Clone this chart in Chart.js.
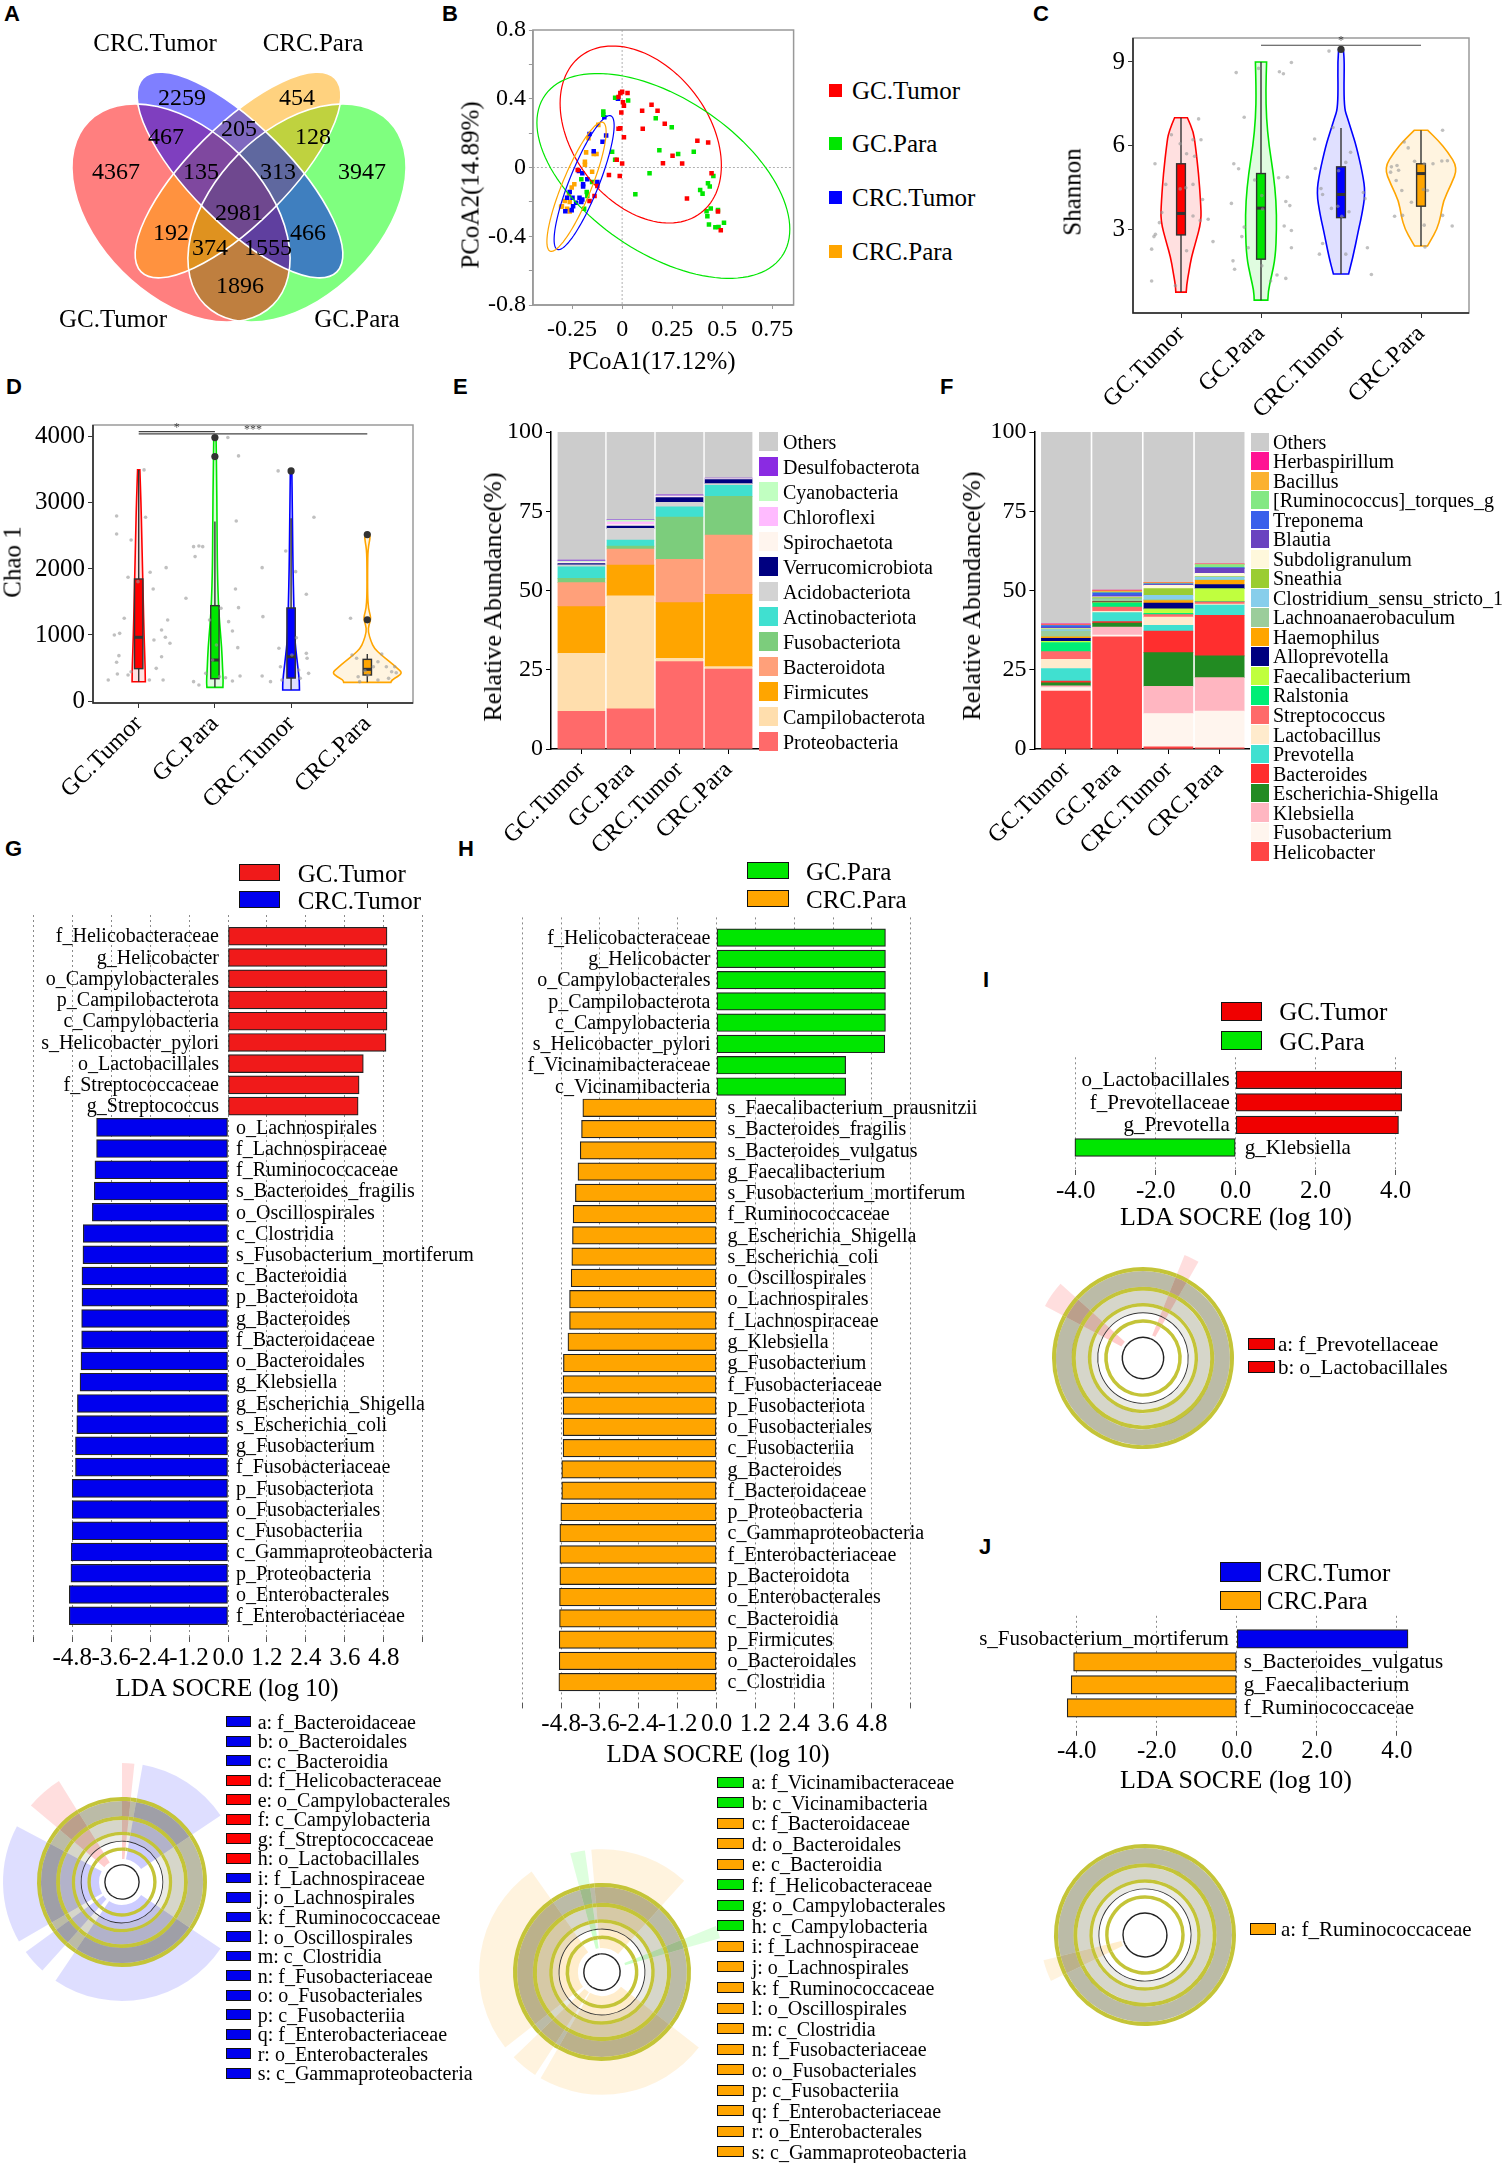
<!DOCTYPE html>
<html>
<head>
<meta charset="utf-8">
<title>GC / CRC tissue microbiota</title>
<script src="https://cdn.jsdelivr.net/npm/chart.js"></script>
<style>
  body { margin: 0; width: 1508px; height: 2163px; position: relative; overflow: hidden; background: #fff; }
  canvas { position: absolute; }
  .t { position: absolute; white-space: nowrap; line-height: 1; color: #000; font-family: "Liberation Serif", "Times New Roman", serif; }
  .key { position: absolute; box-sizing: border-box; }
</style>
</head>
<body>
<script>
const SERIF = '"Liberation Serif", "Times New Roman", serif';
const SANS = '"Liberation Sans", Arial, sans-serif';
Chart.defaults.font.family = SERIF;
Chart.defaults.color = '#000';
Chart.defaults.animation = false;
Chart.defaults.responsive = false;
Chart.defaults.events = [];
Chart.defaults.plugins.legend.display = false;
Chart.defaults.plugins.tooltip.enabled = false;

// ---------------- data ----------------
const groups = ['GC.Tumor', 'GC.Para', 'CRC.Tumor', 'CRC.Para'];
const groupColors = ['#FF0000', '#00E600', '#0000FF', '#FFA500'];

// A: shared OTUs (Venn)
const vennSets = ['GC.Tumor', 'CRC.Tumor', 'CRC.Para', 'GC.Para'];
const vennCounts = [4367, 2259, 454, 3947, 467, 205, 128, 135, 313, 2981, 192, 466, 374, 1555, 1896];

// B: PCoA coordinates
const pcoaGCTumor = [[-0.009,0.434],[0,0.44],[0.027,0.434],[-0.018,0.41],[0.004,0.38],[0.009,0.36],[-0.004,0.32],[0.10,0.33],[0.147,0.365],[0.177,0.33],[0.103,0.225],[0.213,0.254],[-0.018,0.225],[-0.009,0.228],[0.009,0.176],[-0.027,0.045],[0,0.023],[-0.066,-0.043],[-0.012,-0.049],[0.204,0.025],[0.252,0.068],[0.30,0.023],[0.376,0.156],[0.43,0.146],[0.447,-0.033],[0.324,-0.18],[0.479,-0.256],[0.493,-0.365],[-0.222,-0.014],[-0.124,-0.107],[-0.138,-0.166],[-0.163,-0.195]];
const pcoaGCPara = [[-0.035,0.406],[0.03,0.39],[-0.094,0.326],[-0.094,0.307],[0.168,0.287],[0.248,0.234],[0.186,0.10],[0.28,0.078],[0.358,0.092],[-0.05,0.092],[-0.035,0.045],[0.137,-0.033],[0.066,-0.156],[0.39,-0.131],[0.402,-0.152],[0.429,-0.092],[0.438,-0.111],[0.456,-0.049],[0.422,-0.254],[0.426,-0.283],[0.443,-0.238],[0.479,-0.248],[0.434,-0.332],[0.466,-0.348],[0.482,-0.346],[0.509,-0.322],[-0.204,-0.068],[-0.15,-0.084],[-0.177,-0.143],[-0.174,-0.166],[-0.19,-0.24]];
const pcoaCRCTumor = [[-0.021,0.40],[-0.089,0.293],[-0.08,0.186],[-0.098,0.15],[-0.163,0.195],[-0.142,0.094],[-0.216,-0.02],[-0.199,-0.033],[-0.195,-0.098],[-0.174,-0.068],[-0.124,-0.084],[-0.262,-0.143],[-0.275,-0.176],[-0.248,-0.176],[-0.213,-0.176],[-0.204,-0.201],[-0.23,-0.205],[-0.199,-0.186],[-0.245,-0.225],[-0.252,-0.248],[-0.284,-0.254],[-0.195,-0.111]];
const pcoaCRCPara = [[-0.119,0.248],[-0.168,0.17],[-0.18,0.088],[-0.186,0.033],[-0.186,0.016],[-0.128,0.078],[-0.142,0.078],[-0.15,-0.025],[-0.239,-0.098],[-0.252,-0.117],[-0.266,-0.156],[-0.287,-0.195],[-0.262,-0.201],[-0.301,-0.225],[-0.305,-0.229],[-0.275,-0.24],[-0.262,-0.256]];
// confidence ellipses: centre x, centre y, sd x, sd y, correlation
const pcoaEllipses = [[0.093,0.192,0.403,0.515,-0.35],[0.206,-0.049,0.632,0.596,-0.52],[-0.19,-0.088,0.15,0.39,0.85],[-0.228,-0.112,0.148,0.376,0.85]];
const pcoaXTicks = [-0.25, 0, 0.25, 0.5, 0.75];
const pcoaXLabels = ['-0.25', '0', '0.25', '0.5', '0.75'];
const pcoaYTicks = [-0.8, -0.6, -0.4, -0.2, 0, 0.2, 0.4, 0.6, 0.8];
const pcoaYLabels = ['-0.8', '', '-0.4', '', '0', '', '0.4', '', '0.8'];

// C: Shannon violins  [value, half width]
const shannonGCTumor = [[0.75,0.065],[1.0,0.07],[1.5,0.10],[2.0,0.13],[2.5,0.18],[3.3,0.255],[4.0,0.245],[5.0,0.22],[6.0,0.18],[6.5,0.155],[7.0,0.08]];
const shannonGCPara = [[0.46,0.085],[0.8,0.09],[1.3,0.13],[2.0,0.18],[3.0,0.195],[4.0,0.19],[5.0,0.155],[6.0,0.10],[7.0,0.067],[8.0,0.06],[9.0,0.07]];
const shannonCRCTumor = [[1.4,0.095],[2.0,0.15],[3.0,0.22],[3.5,0.26],[4.3,0.305],[5.0,0.27],[6.0,0.19],[6.5,0.135],[7.0,0.08],[7.3,0.045],[8.0,0.036],[9.0,0.042],[9.45,0.03]];
const shannonCRCPara = [[2.4,0.08],[2.6,0.12],[3.0,0.2],[3.5,0.25],[4.0,0.275],[4.6,0.375],[5.2,0.46],[5.8,0.33],[6.2,0.21],[6.55,0.085]];
const shannonQ1 = [2.8, 1.93, 3.42, 3.83];
const shannonMedian = [3.57, 3.76, 4.25, 5.0];
const shannonQ3 = [5.35, 5.0, 5.24, 5.35];
const shannonLow = [0.75, 0.46, 1.4, 2.4];
const shannonHigh = [7.0, 9.0, 6.63, 6.55];
const shannonOutliers = [[3, 9.45]];
const shannonSig = [[2, 4, 9.6, '*']];
const shannonPoints = [[0.675,5.35],[0.633,2.29],[0.662,2.74],[0.68,2.82],[0.633,1.15],[0.73,3.24],[0.81,4.61],[0.88,6.39],[0.99,6.07],[1.07,5.71],[1.15,6.21],[1.17,5.62],[1.22,6.96],[1.25,6.21],[1.27,4.07],[1.24,3.32],[1.34,3.36],[1.40,2.56],[0.99,4.45],[1.06,4.49],[1.07,2.23],[1.15,4.61],[0.93,0.98],[0.76,3.6],[1.15,3.48],
  [1.69,8.62],[1.79,7.02],[1.66,5.35],[1.72,5.17],[1.63,3.93],[1.76,2.74],[1.79,3.08],[1.84,2.34],[1.65,1.87],[1.67,1.57],[1.97,8.77],[2.23,8.65],[2.28,8.58],[2.38,8.98],[2.33,4.87],[2.22,4.85],[2.31,4.0],[2.36,3.85],[2.29,3.12],[2.38,2.96],[2.38,2.34],[2.20,1.36],[2.31,1.24],[2.12,1.15],[2.01,4.21],[2.02,3.73],[1.92,4.77],[2.01,1.69],
  [2.85,9.39],[2.67,6.24],[2.68,5.18],[2.75,4.46],[2.77,4.25],[2.88,3.75],[2.90,6.65],[2.77,2.49],[2.73,2.11],[2.97,5.1],[2.96,3.83],[3.06,5.4],[3.12,5.76],[3.10,3.63],[3.28,4.32],[3.30,4.1],[3.33,2.34],[3.38,1.38],[3.06,2.11],[3.01,3.47],
  [3.62,5.05],[3.63,5.24],[3.70,5.29],[3.72,5.12],[3.69,4.75],[3.76,4.39],[3.67,3.47],[3.77,3.5],[3.79,6.13],[3.84,5.92],[3.92,5.44],[4.04,5.35],[4.03,4.43],[4.08,4.39],[4.15,5.35],[4.27,6.55],[4.26,5.45],[4.33,5.46],[4.27,3.5],[4.39,3.12],[4.04,3.15],[4.05,2.37],[3.88,3.97]];

// D: Chao1 violins
const chaoGCTumor = [[292,0.087],[500,0.085],[1000,0.07],[1500,0.06],[2000,0.05],[2500,0.04],[3000,0.03],[3500,0.015]];
const chaoGCPara = [[207,0.105],[300,0.11],[500,0.1],[800,0.09],[1200,0.06],[1500,0.045],[2000,0.032],[2700,0.028],[3500,0.022],[4000,0.015]];
const chaoCRCTumor = [[167,0.11],[300,0.11],[500,0.09],[800,0.06],[1000,0.045],[1500,0.035],[2000,0.025],[2500,0.02],[3000,0.015],[3485,0.01]];
const chaoCRCPara = [[283,0.31],[320,0.32],[370,0.4],[430,0.46],[500,0.39],[600,0.29],[700,0.18],[800,0.09],[900,0.05],[1050,0.01],[1150,0.02],[1230,0.045],[1300,0.04],[1400,0.015],[1600,0.004],[2000,0.004],[2300,0.008],[2480,0.04],[2540,0.025]];
const chaoQ1 = [490, 338, 348, 394];
const chaoMedian = [965, 621, 671, 480];
const chaoQ3 = [1848, 1444, 1409, 631];
const chaoLow = [292, 207, 167, 283];
const chaoHigh = [3500, 2717, 2768, 712];
const chaoOutliers = [[2,3702],[2,3990],[3,3485],[4,1230],[4,2520]];
const chaoSig = [[1, 2, 4080, '*'], [1, 4, 4045, '***']];
const chaoPoints = [[0.6,318],[0.71,2803],[0.71,2530],[0.68,1000],[0.75,1025],[0.74,687],[0.71,586],[0.72,409],[0.81,1253],[0.86,1874],[0.9,2439],[0.9,444],[0.99,1808],[1.07,3500],[1.09,2783],[1.15,1949],[1.19,1697],[1.20,924],[1.23,495],[1.30,1076],[1.36,2020],[1.38,1227],[1.35,965],[1.41,874],[1.30,671],[1.32,318],[1.14,318],[0.86,394],
  [1.72,293],[1.79,242],[1.72,2338],[1.79,2348],[1.84,2338],[1.74,2187],[1.62,1556],[1.93,1227],[2.02,848],[1.97,621],[2.08,1404],[2.06,368],[2.17,3990],[2.31,3712],[2.28,2727],[2.27,1697],[2.18,1202],[2.23,1060],[2.31,1414],[2.30,808],[2.33,379],[2.23,303],[2.14,353],[1.88,419],
  [2.62,2020],[2.63,1278],[2.62,379],[2.73,293],[2.83,3485],[2.84,798],[2.86,520],[2.88,318],[2.93,2273],[3.06,1959],[3.07,959],[3.01,697],[3.12,343],[3.2,722],[3.21,647],[3.2,1616],[3.30,2783],[3.23,419],[3.1,470],
  [3.78,1253],[3.8,697],[3.86,647],[3.88,368],[3.9,293],[3.97,459],[4.01,394],[4.08,520],[4.14,595],[4.19,712],[4.25,520],[4.32,444],[4.36,520],[4.38,429],[4.28,343],[4.14,318]];

// E: phylum relative abundance (%), bottom -> top
const phyla = ['Proteobacteria','Campilobacterota','Firmicutes','Bacteroidota','Fusobacteriota','Actinobacteriota','Acidobacteriota','Verrucomicrobiota','Spirochaetota','Chloroflexi','Cyanobacteria','Desulfobacterota','Others'];
const phylumGCTumor = [11.9, 18.3, 14.7, 7.6, 1.3, 3.7, 0.6, 0.4, 0.3, 0.2, 0.3, 0.3, 40.4];
const phylumGCPara = [12.7, 35.6, 9.7, 5.1, 0.9, 1.9, 3.7, 0.7, 0.5, 0.9, 0.5, 0.2, 27.6];
const phylumCRCTumor = [27.6, 1.0, 17.6, 13.6, 13.4, 3.2, 1.4, 1.5, 0.3, 0.2, 0.1, 0.3, 19.8];
const phylumCRCPara = [25.2, 0.8, 22.8, 18.7, 12.2, 3.5, 0.5, 1.3, 0.1, 0.1, 0.1, 0.2, 14.5];

// F: genus relative abundance (%), bottom -> top
const genera = ['Helicobacter','Fusobacterium','Klebsiella','Escherichia-Shigella','Bacteroides','Prevotella','Lactobacillus','Streptococcus','Ralstonia','Faecalibacterium','Alloprevotella','Haemophilus','Lachnoanaerobaculum','Clostridium_sensu_stricto_1','Sneathia','Subdoligranulum','Blautia','Treponema','[Ruminococcus]_torques_g','Bacillus','Herbaspirillum','Others'];
const genusGCTumor = [18.3,1.1,0.5,1.0,0.5,4.0,2.9,2.4,2.9,0.4,0.9,0.5,1.8,0.5,0.2,0.2,0.2,0.6,0.1,0.2,0.3,60.5];
const genusGCPara = [35.4,0.5,2.6,1.2,0.5,2.8,0.4,1.4,1.2,0.2,0.2,0.2,0.5,0.3,0.4,0.2,0.3,1.0,0.2,0.4,0.2,49.9];
const genusCRCTumor = [0.7,10.5,8.6,10.6,6.8,1.8,2.6,0.8,0.4,1.4,1.8,0.8,0.3,1.4,2.1,1.0,0.3,0.2,0.2,0.2,0.1,47.4];
const genusCRCPara = [0.4,11.6,10.5,6.9,12.8,3.2,0.3,0.7,0.2,4.0,1.3,1.3,0.2,0.8,0.2,1.0,1.6,0.2,1.0,0.1,0.1,41.6];

// G: LEfSe GC.Tumor vs CRC.Tumor
const ldaGTaxa = ['f_Helicobacteraceae','g_Helicobacter','o_Campylobacterales','p_Campilobacterota','c_Campylobacteria','s_Helicobacter_pylori','o_Lactobacillales','f_Streptococcaceae','g_Streptococcus','o_Lachnospirales','f_Lachnospiraceae','f_Ruminococcaceae','s_Bacteroides_fragilis','o_Oscillospirales','c_Clostridia','s_Fusobacterium_mortiferum','c_Bacteroidia','p_Bacteroidota','g_Bacteroides','f_Bacteroidaceae','o_Bacteroidales','g_Klebsiella','g_Escherichia_Shigella','s_Escherichia_coli','g_Fusobacterium','f_Fusobacteriaceae','p_Fusobacteriota','o_Fusobacteriales','c_Fusobacteriia','c_Gammaproteobacteria','p_Proteobacteria','o_Enterobacterales','f_Enterobacteriaceae'];
const ldaGScore = [4.90,4.90,4.90,4.90,4.90,4.87,4.17,4.04,4.01,-4.05,-4.05,-4.10,-4.12,-4.18,-4.46,-4.47,-4.50,-4.50,-4.51,-4.51,-4.53,-4.56,-4.64,-4.66,-4.70,-4.70,-4.80,-4.80,-4.80,-4.83,-4.84,-4.89,-4.89];
// H: LEfSe GC.Para vs CRC.Para
const ldaHTaxa = ['f_Helicobacteraceae','g_Helicobacter','o_Campylobacterales','p_Campilobacterota','c_Campylobacteria','s_Helicobacter_pylori','f_Vicinamibacteraceae','c_Vicinamibacteria','s_Faecalibacterium_prausnitzii','s_Bacteroides_fragilis','s_Bacteroides_vulgatus','g_Faecalibacterium','s_Fusobacterium_mortiferum','f_Ruminococcaceae','g_Escherichia_Shigella','s_Escherichia_coli','o_Oscillospirales','o_Lachnospirales','f_Lachnospiraceae','g_Klebsiella','g_Fusobacterium','f_Fusobacteriaceae','p_Fusobacteriota','o_Fusobacteriales','c_Fusobacteriia','g_Bacteroides','f_Bacteroidaceae','p_Proteobacteria','c_Gammaproteobacteria','f_Enterobacteriaceae','p_Bacteroidota','o_Enterobacterales','c_Bacteroidia','p_Firmicutes','o_Bacteroidales','c_Clostridia'];
const ldaHScore = [5.22,5.22,5.22,5.22,5.22,5.20,3.99,3.99,-4.13,-4.17,-4.21,-4.28,-4.36,-4.43,-4.45,-4.47,-4.49,-4.54,-4.54,-4.59,-4.73,-4.74,-4.74,-4.74,-4.74,-4.78,-4.78,-4.81,-4.84,-4.84,-4.84,-4.85,-4.85,-4.86,-4.86,-4.87];
const ldaWideTicks = [-6, -4.8, -3.6, -2.4, -1.2, 0, 1.2, 2.4, 3.6, 4.8, 6];
const ldaWideLabels = ['', '-4.8', '-3.6', '-2.4', '-1.2', '0.0', '1.2', '2.4', '3.6', '4.8', ''];
// I: GC.Tumor vs GC.Para ; J: CRC.Tumor vs CRC.Para
const ldaITaxa = ['o_Lactobacillales', 'f_Prevotellaceae', 'g_Prevotella', 'g_Klebsiella'];
const ldaIScore = [4.15, 4.15, 4.07, -4.02];
const ldaJTaxa = ['s_Fusobacterium_mortiferum', 's_Bacteroides_vulgatus', 'g_Faecalibacterium', 'f_Ruminococcaceae'];
const ldaJScore = [4.28, -4.08, -4.14, -4.24];
const ldaNarrowTicks = [-4, -2, 0, 2, 4];
const ldaNarrowLabels = ['-4.0', '-2.0', '0.0', '2.0', '4.0'];

// cladogram clade sectors (degrees clockwise from top) and enriched group
const cladeG = [6, 4, 46, 68, 90, 8, 12, 6, 58, 12, 18, 32];
const cladeGCls = ['a', '', 'b', '', 'b', '', 'b', '', 'b', '', 'a', ''];
const cladeH = [42, 26, 6, 54, 82, 3, 13, 6, 93, 20, 7, 3, 5];
const cladeHCls = ['b', '', 'a', '', 'b', '', 'b', '', 'b', '', 'a', '', 'b'];
const cladeI = [22, 8, 268, 14, 48];
const cladeICls = ['', 'a', '', 'a', ''];
const cladeJ = [244, 12, 104];
const cladeJCls = ['', 'b', ''];
const cladoGNames = ['a: f_Bacteroidaceae','b: o_Bacteroidales','c: c_Bacteroidia','d: f_Helicobacteraceae','e: o_Campylobacterales','f: c_Campylobacteria','g: f_Streptococcaceae','h: o_Lactobacillales','i: f_Lachnospiraceae','j: o_Lachnospirales','k: f_Ruminococcaceae','l: o_Oscillospirales','m: c_Clostridia','n: f_Fusobacteriaceae','o: o_Fusobacteriales','p: c_Fusobacteriia','q: f_Enterobacteriaceae','r: o_Enterobacterales','s: c_Gammaproteobacteria'];
const cladoGNameCls = ['b','b','b','a','a','a','a','a','b','b','b','b','b','b','b','b','b','b','b'];
const cladoHNames = ['a: f_Vicinamibacteraceae','b: c_Vicinamibacteria','c: f_Bacteroidaceae','d: o_Bacteroidales','e: c_Bacteroidia','f: f_Helicobacteraceae','g: o_Campylobacterales','h: c_Campylobacteria','i: f_Lachnospiraceae','j: o_Lachnospirales','k: f_Ruminococcaceae','l: o_Oscillospirales','m: c_Clostridia','n: f_Fusobacteriaceae','o: o_Fusobacteriales','p: c_Fusobacteriia','q: f_Enterobacteriaceae','r: o_Enterobacterales','s: c_Gammaproteobacteria'];
const cladoHNameCls = ['a','a','b','b','b','a','a','a','b','b','b','b','b','b','b','b','b','b','b'];
const cladoINames = ['a: f_Prevotellaceae', 'b: o_Lactobacillales'];
const cladoJNames = ['a: f_Ruminococcaceae'];

// ---------------- styles / layout ----------------
const vennFill = ['rgba(255,0,0,0.5)', 'rgba(0,0,255,0.5)', 'rgba(255,165,0,0.5)', 'rgba(0,255,0,0.5)'];
const vennShapes = [[181,213,130,83,45],[240,175,137,49,45],[238,175,137,49,-45],[297,213,130,83,-45]];
const vennDrawOrder = [3, 0, 2, 1];
const vennLabelXY = [[116,172],[182,98],[297,98],[362,172],[166,137],[239,129],[313,137],[201,172],[278,172],[239,213],[171,233],[308,233],[210,248],[268,248],[240,286]];
const phylumColors = ['#FF6A6A','#FFDEAD','#FFA500','#FFA07A','#7CCD7C','#40E0D0','#D3D3D3','#000080','#FFF5EE','#FFBBFF','#C1FFC1','#8A2BE2','#CCCCCC'];
const genusColors = ['#FF4545','#FFF5EE','#FFB6C1','#228B22','#FF2E2E','#40E0D0','#FFEBCD','#FF6A6A','#00EE76','#C0FF3E','#000080','#FFA500','#9BCD9B','#87CEEB','#9ACD32','#FFF8DC','#6A42C0','#3A5FEB','#84E884','#FBB12F','#FF1493','#CCCCCC'];
// cladogram ring bands, outermost first: [thickness weight, fill]
const cladoRings = [
  [3.5, '#C4C438'], [13.5, 'rgba(105,105,60,0.45)'], [3.5, '#C4C438'], [10.5, 'rgba(120,120,80,0.3)'],
  [3, '#C4C438'], [5, 'rgba(140,140,110,0.18)'], [0.8, '#333'], [5.2, 'rgba(0,0,0,0)'],
  [3, '#C4C438'], [12, 'rgba(0,0,0,0)'], [1.2, '#222']
];

// ---------------- helpers ----------------
function mkCanvas(x, y, w, h) {
  const c = document.createElement('canvas');
  c.width = w; c.height = h;
  c.style.left = x + 'px'; c.style.top = y + 'px';
  c.style.width = w + 'px'; c.style.height = h + 'px';
  document.body.appendChild(c);
  return c;
}
function txt(s, x, y, size, o) {
  o = o || {};
  const d = document.createElement('div');
  d.className = 't';
  d.textContent = s;
  d.style.left = x + 'px'; d.style.top = y + 'px';
  d.style.fontSize = size + 'px';
  if (o.font) d.style.fontFamily = o.font;
  if (o.bold) d.style.fontWeight = 'bold';
  const ax = o.ax !== undefined ? o.ax : -50, ay = o.ay !== undefined ? o.ay : -50;
  d.style.transform = 'translate(' + ax + '%,' + ay + '%)' + (o.rot ? ' rotate(' + o.rot + 'deg)' : '');
  document.body.appendChild(d);
}
function key(x, y, w, h, color, border) {
  const d = document.createElement('div');
  d.className = 'key';
  d.style.left = x + 'px'; d.style.top = y + 'px';
  d.style.width = w + 'px'; d.style.height = h + 'px';
  d.style.background = color;
  if (border) d.style.border = '1.5px solid #111';
  document.body.appendChild(d);
}
function rgba(hex, a) {
  const n = parseInt(hex.slice(1), 16);
  return 'rgba(' + (n >> 16) + ',' + ((n >> 8) & 255) + ',' + (n & 255) + ',' + a + ')';
}
function fixedTicks(list) {
  return s => { s.ticks = list.map(v => ({ value: v })); };
}
function smoothSide(ctx, pts, first) {
  if (first) ctx.moveTo(pts[0][0], pts[0][1]); else ctx.lineTo(pts[0][0], pts[0][1]);
  for (let i = 1; i < pts.length - 1; i++) {
    const mx = (pts[i][0] + pts[i + 1][0]) / 2, my = (pts[i][1] + pts[i + 1][1]) / 2;
    ctx.quadraticCurveTo(pts[i][0], pts[i][1], mx, my);
  }
  const l = pts[pts.length - 1];
  ctx.lineTo(l[0], l[1]);
}
function drawFrame(chart, light, dark) {
  const { ctx, chartArea: a } = chart;
  ctx.save();
  ctx.lineWidth = 1.5;
  ctx.strokeStyle = light;
  ctx.strokeRect(a.left, a.top, a.width, a.height);
  ctx.strokeStyle = dark;
  ctx.beginPath();
  ctx.moveTo(a.left, a.top); ctx.lineTo(a.left, a.bottom); ctx.lineTo(a.right, a.bottom);
  ctx.stroke();
  ctx.restore();
}

// ---------------- panel letters ----------------
[['A',4,3],['B',442,3],['C',1033,3],['D',6,376],['E',453,376],['F',940,376],['G',5,838],['H',458,838],['I',983,969],['J',979,1536]]
  .forEach(p => txt(p[0], p[1], p[2], 22, { font: SANS, bold: true, ax: 0, ay: 0 }));

// ---------------- A: Venn ----------------
const vennPlugin = {
  id: 'venn',
  afterDraw(chart) {
    const { ctx, scales: { x, y } } = chart;
    const k = x.getPixelForValue(1) - x.getPixelForValue(0);
    ctx.save();
    const path = s => {
      ctx.beginPath();
      ctx.ellipse(x.getPixelForValue(s[0]), y.getPixelForValue(s[1]), s[2] * k, s[3] * k, s[4] * Math.PI / 180, 0, 2 * Math.PI);
    };
    vennDrawOrder.forEach(i => { path(vennShapes[i]); ctx.fillStyle = vennFill[i]; ctx.fill(); });
    ctx.strokeStyle = '#fff'; ctx.lineWidth = 1.6;
    vennShapes.forEach(s => { path(s); ctx.stroke(); });
    ctx.fillStyle = '#000';
    ctx.font = '24px ' + SERIF;
    ctx.textAlign = 'center'; ctx.textBaseline = 'middle';
    vennCounts.forEach((n, i) => ctx.fillText(String(n), x.getPixelForValue(vennLabelXY[i][0]), y.getPixelForValue(vennLabelXY[i][1]) + 1));
    ctx.restore();
  }
};
new Chart(mkCanvas(0, 0, 440, 380), {
  type: 'scatter',
  data: { datasets: [] },
  options: {
    scales: {
      x: { display: false, min: 0, max: 440 },
      y: { display: false, min: 0, max: 380, reverse: true }
    }
  },
  plugins: [vennPlugin]
});
txt(vennSets[1], 155, 42, 25);
txt(vennSets[2], 313, 42, 25);
txt(vennSets[0], 113, 318, 25);
txt(vennSets[3], 357, 318, 25);

// ---------------- B: PCoA ----------------
const pcoaSets = [pcoaGCTumor, pcoaGCPara, pcoaCRCTumor, pcoaCRCPara];
const pcoaPlugin = {
  id: 'pcoa',
  beforeDatasetsDraw(chart) {
    const { ctx, chartArea: a, scales: { x, y } } = chart;
    ctx.save();
    ctx.strokeStyle = '#b0b0b0'; ctx.lineWidth = 1; ctx.setLineDash([2, 2]);
    ctx.beginPath();
    ctx.moveTo(x.getPixelForValue(0), a.top); ctx.lineTo(x.getPixelForValue(0), a.bottom);
    ctx.moveTo(a.left, y.getPixelForValue(0)); ctx.lineTo(a.right, y.getPixelForValue(0));
    ctx.stroke();
    ctx.restore();
  },
  afterDatasetsDraw(chart) {
    const { ctx, scales: { x, y } } = chart;
    ctx.save();
    ctx.lineWidth = 1.2;
    pcoaEllipses.forEach((e, i) => {
      ctx.strokeStyle = groupColors[i];
      ctx.beginPath();
      for (let s = 0; s <= 120; s++) {
        const t = s / 120 * 2 * Math.PI;
        const px = x.getPixelForValue(e[0] + e[2] * Math.cos(t));
        const py = y.getPixelForValue(e[1] + e[3] * (e[4] * Math.cos(t) + Math.sqrt(1 - e[4] * e[4]) * Math.sin(t)));
        if (s === 0) ctx.moveTo(px, py); else ctx.lineTo(px, py);
      }
      ctx.stroke();
    });
    ctx.restore();
  },
  afterDraw(chart) { drawFrame(chart, '#999', '#999'); }
};
new Chart(mkCanvas(440, 0, 380, 380), {
  type: 'scatter',
  data: {
    datasets: pcoaSets.map((set, i) => ({
      data: set.map(p => ({ x: p[0], y: p[1] })),
      pointStyle: 'rect', pointRadius: 3.2, backgroundColor: groupColors[i], borderWidth: 0
    }))
  },
  options: {
    layout: { padding: { left: 0, top: 30, right: 26.4, bottom: 0 } },
    scales: {
      x: {
        min: -0.446, max: 0.857, afterBuildTicks: fixedTicks(pcoaXTicks),
        ticks: { font: { size: 24 }, maxRotation: 0, autoSkip: false, padding: 6, callback: (v, i) => pcoaXLabels[i] },
        grid: { drawOnChartArea: false, tickLength: 4, color: '#999' }, border: { display: false },
        afterFit: s => { s.height = 75; }
      },
      y: {
        min: -0.8, max: 0.8, afterBuildTicks: fixedTicks(pcoaYTicks),
        ticks: { font: { size: 24 }, autoSkip: false, padding: 3, callback: (v, i) => pcoaYLabels[i] },
        grid: { drawOnChartArea: false, tickLength: 4, color: '#999' }, border: { display: false },
        afterFit: s => { s.width = 92.9; }
      }
    }
  },
  plugins: [pcoaPlugin]
});
txt('PCoA1(17.12%)', 652, 360, 25);
txt('PCoA2(14.89%)', 470, 185, 25, { rot: -90 });
groups.forEach((g, i) => {
  const cy = [90, 143, 197, 251][i];
  key(829, cy - 6.5, 13, 13, groupColors[i]);
  txt(g, 852, cy, 25, { ax: 0 });
});

// ---------------- C & D: violins ----------------
function violinPlugin(profiles, q1, med, q3, lo, hi, outliers, sig, colors, boxHalf) {
  return {
    id: 'violins',
    beforeDatasetsDraw(chart) {
      const { ctx, scales: { x, y } } = chart;
      ctx.save();
      profiles.forEach((prof, i) => {
        const c = i + 1;
        const right = prof.map(p => [x.getPixelForValue(c + p[1]), y.getPixelForValue(p[0])]);
        const left = prof.map(p => [x.getPixelForValue(c - p[1]), y.getPixelForValue(p[0])]).reverse();
        ctx.beginPath();
        smoothSide(ctx, right, true);
        smoothSide(ctx, left, false);
        ctx.closePath();
        ctx.fillStyle = rgba(colors[i], 0.12); ctx.fill();
        ctx.strokeStyle = colors[i]; ctx.lineWidth = 1.6; ctx.stroke();
        const xc = x.getPixelForValue(c);
        ctx.strokeStyle = '#333'; ctx.lineWidth = 1.4;
        ctx.beginPath(); ctx.moveTo(xc, y.getPixelForValue(lo[i])); ctx.lineTo(xc, y.getPixelForValue(hi[i])); ctx.stroke();
        const x0 = x.getPixelForValue(c - boxHalf), x1 = x.getPixelForValue(c + boxHalf);
        const yA = y.getPixelForValue(q3[i]), yB = y.getPixelForValue(q1[i]);
        ctx.fillStyle = colors[i];
        ctx.fillRect(x0, yA, x1 - x0, yB - yA);
        ctx.strokeRect(x0, yA, x1 - x0, yB - yA);
        const ym = y.getPixelForValue(med[i]);
        ctx.lineWidth = 3;
        ctx.beginPath(); ctx.moveTo(x0, ym); ctx.lineTo(x1, ym); ctx.stroke();
      });
      ctx.fillStyle = '#333';
      outliers.forEach(o => {
        ctx.beginPath(); ctx.arc(x.getPixelForValue(o[0]), y.getPixelForValue(o[1]), 3.6, 0, 2 * Math.PI); ctx.fill();
      });
      ctx.restore();
    },
    afterDraw(chart) {
      drawFrame(chart, '#9a9a9a', '#222');
      const { ctx, scales: { x, y } } = chart;
      ctx.save();
      ctx.strokeStyle = '#444'; ctx.fillStyle = '#444'; ctx.lineWidth = 1.2;
      ctx.font = '12px ' + SERIF; ctx.textAlign = 'center'; ctx.textBaseline = 'bottom';
      sig.forEach(s => {
        const yy = y.getPixelForValue(s[2]);
        ctx.beginPath(); ctx.moveTo(x.getPixelForValue(s[0]), yy); ctx.lineTo(x.getPixelForValue(s[1]), yy); ctx.stroke();
        ctx.fillText(s[3], (x.getPixelForValue(s[0]) + x.getPixelForValue(s[1])) / 2, yy + 2);
      });
      ctx.restore();
    }
  };
}
function violinChart(canvas, points, plugin, cfg) {
  return new Chart(canvas, {
    type: 'scatter',
    data: { datasets: [{ data: points.map(p => ({ x: p[0], y: p[1] })), pointRadius: 1.8, backgroundColor: 'rgba(150,150,150,0.6)', borderWidth: 0 }] },
    options: {
      layout: { padding: { left: 0, top: cfg.top, right: cfg.right, bottom: 0 } },
      scales: {
        x: {
          min: 0.4, max: 4.6, offset: false, afterBuildTicks: fixedTicks([1, 2, 3, 4]),
          ticks: { font: { size: 24 }, minRotation: 45, maxRotation: 45, autoSkip: false, padding: 2, callback: (v, i) => groups[i] },
          grid: { drawOnChartArea: false, tickLength: 5, color: '#333' }, border: { display: false },
          afterFit: s => { s.height = cfg.axisH; }
        },
        y: {
          min: cfg.ymin, max: cfg.ymax, afterBuildTicks: fixedTicks(cfg.yticks),
          ticks: { font: { size: 25 }, autoSkip: false, padding: 3, callback: v => String(v) },
          grid: { drawOnChartArea: false, tickLength: 5, color: '#333' }, border: { display: false },
          afterFit: s => { s.width = cfg.axisW; }
        }
      }
    },
    plugins: [plugin]
  });
}
violinChart(mkCanvas(1000, 0, 508, 420), shannonPoints,
  violinPlugin([shannonGCTumor, shannonGCPara, shannonCRCTumor, shannonCRCPara], shannonQ1, shannonMedian, shannonQ3, shannonLow, shannonHigh, shannonOutliers, shannonSig, groupColors, 0.055),
  { top: 38, right: 39, axisH: 107, axisW: 133, ymin: 0, ymax: 9.86, yticks: [3, 6, 9] });
txt('Shannon', 1072, 192, 25, { rot: -90 });

violinChart(mkCanvas(0, 400, 460, 420), chaoPoints,
  violinPlugin([chaoGCTumor, chaoGCPara, chaoCRCTumor, chaoCRCPara], chaoQ1, chaoMedian, chaoQ3, chaoLow, chaoHigh, chaoOutliers, chaoSig, groupColors, 0.055),
  { top: 25, right: 47, axisH: 117, axisW: 93, ymin: -30, ymax: 4180, yticks: [0, 1000, 2000, 3000, 4000] });
txt('Chao 1', 12, 562, 25, { rot: -90 });

// ---------------- E & F: stacked composition ----------------
function stackChart(canvas, names, byGroup, colors, cfg) {
  return new Chart(canvas, {
    type: 'bar',
    data: {
      datasets: names.map((n, k) => ({
        label: n,
        data: byGroup.map((arr, g) => ({ x: g + 1, y: arr[k] })),
        backgroundColor: colors[k], borderWidth: 0, barThickness: cfg.bar
      }))
    },
    options: {
      layout: { padding: { left: 0, top: 32, right: cfg.right, bottom: 0 } },
      scales: {
        x: {
          type: 'linear', stacked: true, offset: false, min: cfg.xmin, max: cfg.xmax, afterBuildTicks: fixedTicks([1, 2, 3, 4]),
          ticks: { font: { size: 24 }, minRotation: 45, maxRotation: 45, autoSkip: false, padding: 2, callback: (v, i) => groups[i] },
          grid: { offset: false, drawOnChartArea: false, tickLength: 5, color: '#000' }, border: { display: true, color: '#000', width: 1.5 },
          afterFit: s => { s.height = 111; }
        },
        y: {
          stacked: true, min: 0, max: 100, afterBuildTicks: fixedTicks([0, 25, 50, 75, 100]),
          ticks: { font: { size: 24 }, autoSkip: false, padding: 3 },
          grid: { drawOnChartArea: false, tickLength: 5, color: '#000' }, border: { display: true, color: '#000', width: 1.5 },
          afterFit: s => { s.width = cfg.axisW; }
        }
      }
    }
  });
}
stackChart(mkCanvas(460, 400, 300, 460), phyla, [phylumGCTumor, phylumGCPara, phylumCRCTumor, phylumCRCPara], phylumColors,
  { bar: 47, right: 2, axisW: 91, xmin: 0.38, xmax: 4.6 });
txt('Relative Abundance(%)', 493, 597, 26, { rot: -90 });
phyla.slice().reverse().forEach((n, i) => {
  const k = phyla.length - 1 - i, cy = 441.7 + 25 * i;
  key(759, cy - 9.5, 19, 19, phylumColors[k]);
  txt(n, 783, cy, 20, { ax: 0 });
});

stackChart(mkCanvas(960, 400, 295, 460), genera, [genusGCTumor, genusGCPara, genusCRCTumor, genusCRCPara], genusColors,
  { bar: 49, right: 5.6, axisW: 74.4, xmin: 0.386, xmax: 4.58 });
txt('Relative Abundance(%)', 972, 596, 26, { rot: -90 });
genera.slice().reverse().forEach((n, i) => {
  const k = genera.length - 1 - i, cy = 441.7 + 19.52 * i;
  key(1251, cy - 9.2, 17.5, 18.4, genusColors[k]);
  txt(n, 1273, cy, 20, { ax: 0 });
});

// ---------------- G-J: LDA bars ----------------
function ldaLabels(taxa, scores, size, gapL, gapR) {
  return {
    id: 'ldaLabels',
    afterDatasetsDraw(chart) {
      const { ctx, scales: { x, y } } = chart;
      const x0 = x.getPixelForValue(0);
      ctx.save();
      ctx.font = size + 'px ' + SERIF;
      ctx.fillStyle = '#000';
      ctx.textBaseline = 'middle';
      taxa.forEach((t, i) => {
        const py = y.getPixelForValue(i) + 1;
        if (scores[i] > 0) { ctx.textAlign = 'right'; ctx.fillText(t, x0 - gapL, py); }
        else { ctx.textAlign = 'left'; ctx.fillText(t, x0 + gapR, py); }
      });
      ctx.restore();
    }
  };
}
function ldaChart(canvas, taxa, scores, cfg) {
  return new Chart(canvas, {
    type: 'bar',
    data: {
      datasets: [{
        data: scores.map((v, i) => ({ x: v, y: i })),
        backgroundColor: scores.map(v => v > 0 ? cfg.pos : cfg.neg),
        borderColor: '#222', borderWidth: 1.2, borderSkipped: false, barThickness: cfg.bar
      }]
    },
    options: {
      indexAxis: 'y',
      layout: { padding: cfg.pad },
      scales: {
        y: { type: 'linear', offset: false, grid: { offset: false }, min: cfg.ymin, max: taxa.length, reverse: true, display: false },
        x: {
          type: 'linear', min: cfg.xmin, max: cfg.xmax, afterBuildTicks: fixedTicks(cfg.ticks),
          ticks: { font: { size: 25 }, maxRotation: 0, autoSkip: false, padding: 1, callback: (v, i) => cfg.labels[i] },
          grid: { color: '#8a8a8a', lineWidth: 1, tickLength: 5, tickColor: '#555' },
          border: { display: false, dash: [2, 3] },
          afterFit: s => { s.height = cfg.axisH; }
        }
      }
    },
    plugins: [ldaLabels(taxa, scores, cfg.font, cfg.gapL, cfg.gapR)]
  });
}
ldaChart(mkCanvas(0, 905, 480, 800), ldaGTaxa, ldaGScore, {
  pos: '#F01A1A', neg: '#0000EE', bar: 17.9, ymin: -1, xmin: -6, xmax: 6, ticks: ldaWideTicks, labels: ldaWideLabels,
  pad: { left: 33.3, right: 57.3, top: 10, bottom: 0 }, axisH: 68, font: 20, gapL: 9, gapR: 8
});
key(239.3, 863.6, 40.7, 17.8, '#F01A1A', true);
key(239.3, 890.7, 40.7, 17.8, '#0000EE', true);
txt('GC.Tumor', 297.7, 872.5, 25, { ax: 0 });
txt('CRC.Tumor', 297.7, 899.6, 25, { ax: 0 });
txt('LDA SOCRE (log 10)', 227, 1687, 25);

ldaChart(mkCanvas(490, 905, 510, 850), ldaHTaxa, ldaHScore, {
  pos: '#00E600', neg: '#FFA500', bar: 17.6, ymin: -0.95, xmin: -6, xmax: 6, ticks: ldaWideTicks, labels: ldaWideLabels,
  pad: { left: 32.3, right: 89.3, top: 12.4, bottom: 0 }, axisH: 51.6, font: 20, gapL: 6, gapR: 11
});
key(746.7, 861.7, 42.3, 17.6, '#00E600', true);
key(746.7, 889.9, 42.3, 17.6, '#FFA500', true);
txt('GC.Para', 806, 870.5, 25, { ax: 0 });
txt('CRC.Para', 806, 898.7, 25, { ax: 0 });
txt('LDA SOCRE (log 10)', 718, 1753, 25);

ldaChart(mkCanvas(1000, 1045, 508, 160), ldaITaxa, ldaIScore, {
  pos: '#F00000', neg: '#00E600', bar: 17.7, ymin: -1, xmin: -5, xmax: 5, ticks: ldaNarrowTicks, labels: ldaNarrowLabels,
  pad: { left: 35.7, right: 72.3, top: 12.3, bottom: 0 }, axisH: 35, font: 21, gapL: 6, gapR: 9
});
key(1220.7, 1001.7, 41.6, 19.3, '#F00000', true);
key(1220.7, 1031, 41.6, 19.3, '#00E600', true);
txt('GC.Tumor', 1279.3, 1011.3, 25, { ax: 0 });
txt('GC.Para', 1279.3, 1040.5, 25, { ax: 0 });
txt('LDA SOCRE (log 10)', 1236, 1217, 26);

ldaChart(mkCanvas(960, 1605, 548, 160), ldaJTaxa, ldaJScore, {
  pos: '#0000EE', neg: '#FFA500', bar: 18.5, ymin: -1, xmin: -5, xmax: 5, ticks: ldaNarrowTicks, labels: ldaNarrowLabels,
  pad: { left: 76.8, right: 71.2, top: 10.8, bottom: 0 }, axisH: 34.2, font: 21, gapL: 8, gapR: 7
});
key(1220.4, 1562.3, 40.9, 19.4, '#0000EE', true);
key(1220.4, 1590.7, 40.9, 19.4, '#FFA500', true);
txt('CRC.Tumor', 1267, 1572, 25, { ax: 0 });
txt('CRC.Para', 1267, 1600.3, 25, { ax: 0 });
txt('LDA SOCRE (log 10)', 1236, 1780, 26);

// ---------------- cladograms ----------------
function cladogram(cx, cy, R, reach, sectors, cls, palette) {
  const ext = Math.ceil(R * reach) + 4, size = 2 * ext;
  const tint = a => cls.map(k => k ? rgba(palette[k], a) : 'rgba(0,0,0,0)');
  new Chart(mkCanvas(cx - ext, cy - ext, size, size), {
    type: 'doughnut',
    data: { datasets: [
      { data: sectors, backgroundColor: tint(0.13), borderWidth: 0, weight: reach - 1 },
      { data: sectors, backgroundColor: tint(0.2), borderWidth: 0, weight: 0.72 }
    ] },
    options: { radius: R * reach, cutout: R * 0.28 }
  });
  new Chart(mkCanvas(cx - ext, cy - ext, size, size), {
    type: 'doughnut',
    data: { datasets: cladoRings.map(r => ({ data: sectors, backgroundColor: r[1], borderWidth: 0, weight: r[0] })) },
    options: { radius: R, cutout: R * 0.28 }
  });
}
cladogram(121.7, 1881.7, 85, 1.4, cladeG, cladeGCls, { a: '#FF0000', b: '#0000FF' });
cladogram(601.7, 1971.7, 89, 1.38, cladeH, cladeHCls, { a: '#00FF00', b: '#FFA500' });
cladogram(1142.5, 1358, 91, 1.22, cladeI, cladeICls, { a: '#FF0000' });
cladogram(1145, 1935, 91, 1.15, cladeJ, cladeJCls, { b: '#FFA500' });

cladoGNames.forEach((n, i) => {
  const cy = 1721.7 + 19.53 * i;
  key(226, cy - 5.4, 24.7, 10.8, cladoGNameCls[i] === 'a' ? '#FF0000' : '#0000EE', true);
  txt(n, 257.7, cy, 20, { ax: 0 });
});
cladoHNames.forEach((n, i) => {
  const cy = 1782.3 + 20.52 * i;
  key(717.3, cy - 5.5, 26.7, 11, cladoHNameCls[i] === 'a' ? '#00E600' : '#FFA500', true);
  txt(n, 751.7, cy, 20, { ax: 0 });
});
cladoINames.forEach((n, i) => {
  const cy = [1344, 1367][i];
  key(1248, cy - 5.8, 27, 11.7, '#F00000', true);
  txt(n, 1278, cy, 21, { ax: 0 });
});
cladoJNames.forEach((n, i) => {
  const cy = 1929 + 23 * i;
  key(1250, cy - 5.8, 26, 11.7, '#FFA500', true);
  txt(n, 1281, cy, 21, { ax: 0 });
});
</script>
</body>
</html>
